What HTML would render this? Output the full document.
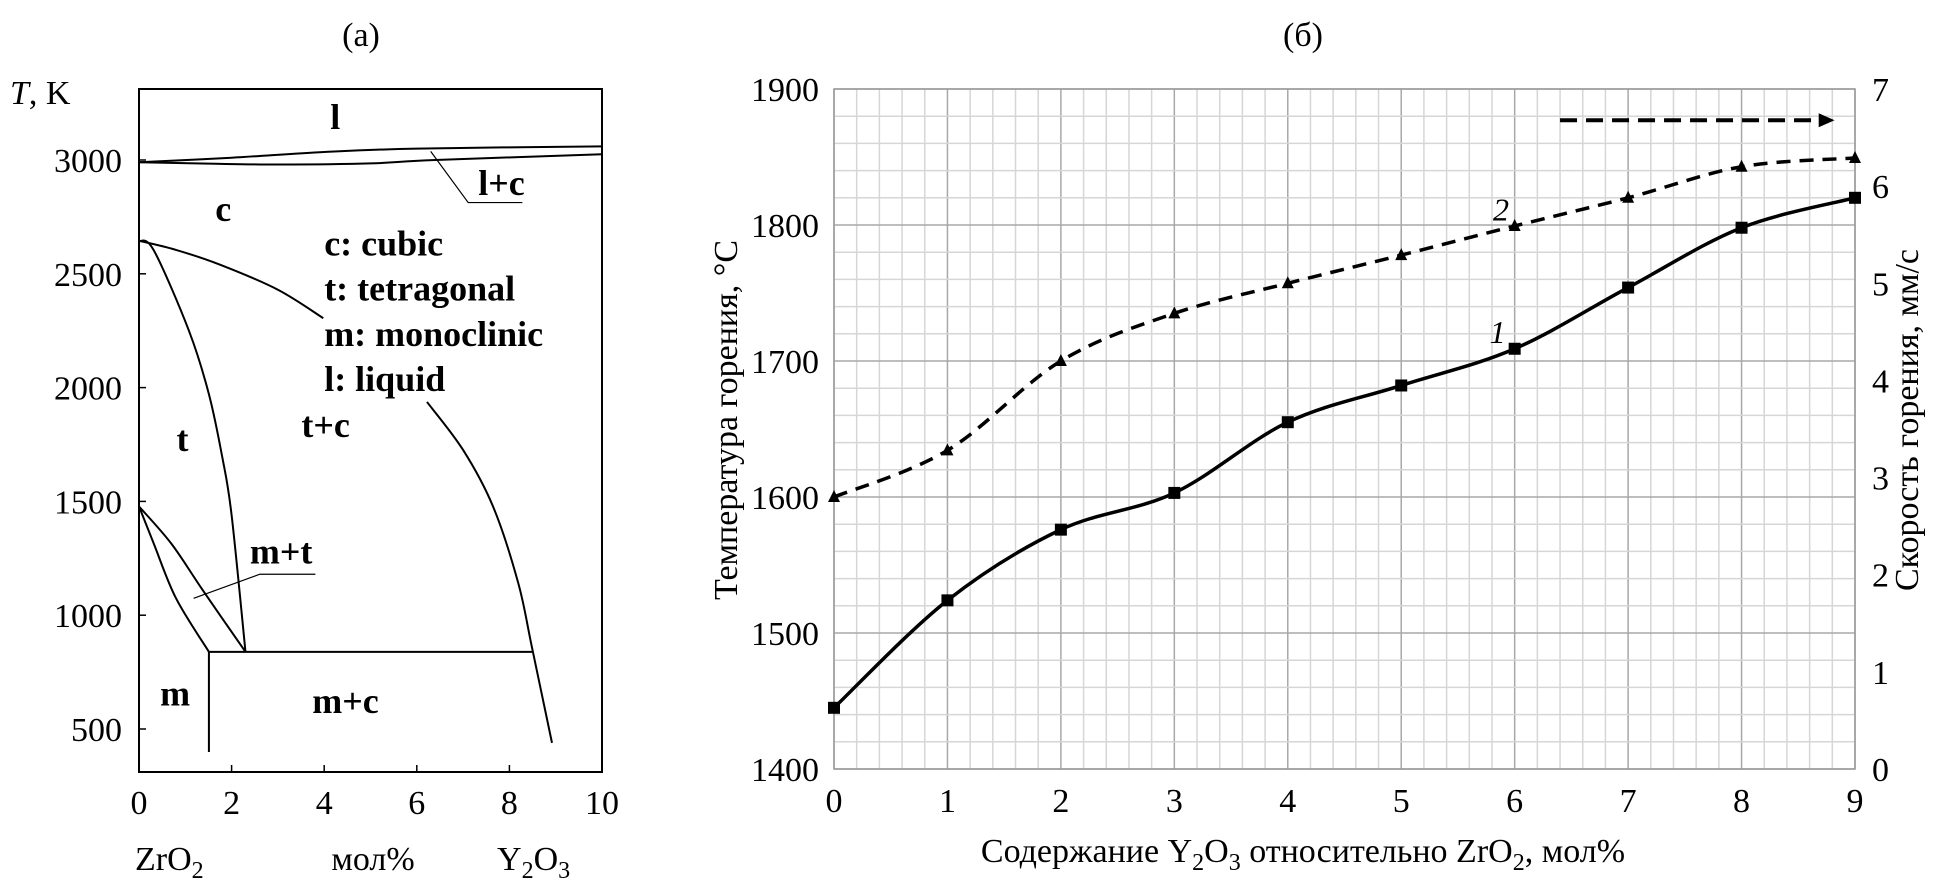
<!DOCTYPE html>
<html><head><meta charset="utf-8">
<style>
html,body{margin:0;padding:0;background:#fff;}
svg{display:block;font-family:"Liberation Serif",serif;}
text,tspan{font-family:"Liberation Serif",serif;fill:#000;}
.b{font-weight:bold;font-size:36px;}
.tk{font-size:34px;}
</style></head>
<body>
<svg id="svg" width="1955" height="891" viewBox="0 0 1955 891" xmlns="http://www.w3.org/2000/svg" font-family="Liberation Serif, serif">
<g id="pa"></g>
<g id="pb"></g>
</svg>
<script>
// ---------- Panel (b) data ----------
const bCategories = [0,1,2,3,4,5,6,7,8,9];
const tempValues = [1445,1524,1576,1603,1655,1682,1709,1754,1798,1820];
const speedValues = [2.8,3.28,4.2,4.69,5.0,5.29,5.59,5.88,6.2,6.29];
const leftTicks = ["1400","1500","1600","1700","1800","1900"];
const rightTicks = ["0","1","2","3","4","5","6","7"];
const xTicksB = ["0","1","2","3","4","5","6","7","8","9"];
// ---------- Panel (a) data ----------
const aYTicks = ["500","1000","1500","2000","2500","3000"];
const aXTicks = ["0","2","4","6","8","10"];
const liquidus = [[0,2990],[2,3010],[4,3035],[6,3050],[10,3060]];
const solidus = [[0,2990],[1.5,2984],[3,2980],[5,2985],[6.4,3000],[10,3025]];
const ctUpper = [[0,2645],[0.8,2605],[1.75,2540],[3,2430],[3.98,2305]];
const ctLower = [[6.22,1937],[7.0,1726],[7.65,1476],[8.19,1142],[8.49,856],[8.92,439]];
const ttcLine = [[0,2645],[0.32,2603],[1.08,2249],[1.51,1971],[1.8,1693],[2.0,1440],[2.3,839]];
const mtUpper = [[0,1478],[0.7,1314],[1.37,1112],[2.3,839]];
const mtLower = [[0,1478],[0.32,1314],[0.8,1074],[1.51,839]];

const NS="http://www.w3.org/2000/svg";
function mk(tag,attrs,parent,txt){const e=document.createElementNS(NS,tag);for(const k in attrs)e.setAttribute(k,attrs[k]);if(tag==='text')e.setAttribute('font-family','Liberation Serif, serif');if(txt!==undefined)e.textContent=txt;parent.appendChild(e);return e;}
function smooth(pts){let d="M"+pts[0][0]+","+pts[0][1];for(let i=0;i<pts.length-1;i++){const p0=pts[i-1]||pts[i],p1=pts[i],p2=pts[i+1],p3=pts[i+2]||p2;const c1=[p1[0]+(p2[0]-p0[0])/6,p1[1]+(p2[1]-p0[1])/6],c2=[p2[0]-(p3[0]-p1[0])/6,p2[1]-(p3[1]-p1[1])/6];d+=" C"+c1+" "+c2+" "+p2;}return d;}

// ---------- Panel (a) ----------
const pa=document.getElementById('pa');
const AX0=139,AX1=602,AY0=89,AY1=772;
const ax=v=>AX0+v*(AX1-AX0)/10;
const ay=T=>160+(3000-T)/500*113.8;
let e;
e=mk('rect',{x:AX0,y:AY0,width:AX1-AX0,height:AY1-AY0,fill:'none',stroke:'#000','stroke-width':2},pa);

aYTicks.forEach(t=>{const y=ay(+t);
 e=mk('line',{x1:AX0,x2:AX0+7,y1:y,y2:y,stroke:'#000','stroke-width':1.5},pa);
 
 e=mk('text',{x:122,y:y+12,'text-anchor':'end',class:'tk'},pa,t);
 });
aXTicks.forEach(t=>{const x=ax(+t);
 e=mk('line',{x1:x,x2:x,y1:AY1,y2:AY1-7,stroke:'#000','stroke-width':1.5},pa);
 
 e=mk('text',{x:x,y:814,'text-anchor':'middle',class:'tk'},pa,t);
 });
[[liquidus,'liquidus-line'],[solidus,'solidus-line'],[ctUpper,'cubic-boundary-upper'],[ctLower,'cubic-boundary-lower'],[ttcLine,'tetragonal-boundary'],[mtUpper,'mt-boundary-upper'],[mtLower,'mt-boundary-lower']].forEach(([pts,n])=>{
 e=mk('path',{d:smooth(pts.map(p=>[ax(p[0]),ay(p[1])])),fill:'none',stroke:'#000','stroke-width':2},pa);
 });
e=mk('line',{x1:ax(1.51),x2:ax(8.49),y1:ay(839),y2:ay(839),stroke:'#000','stroke-width':2},pa);

e=mk('line',{x1:ax(1.51),x2:ax(1.51),y1:ay(839),y2:ay(399),stroke:'#000','stroke-width':2},pa);

e=mk('polyline',{points:[[ax(6.3),ay(3038)],[ax(7.11),ay(2813)],[ax(8.28),ay(2813)]].join(' '),fill:'none',stroke:'#000','stroke-width':1.2},pa);

e=mk('polyline',{points:[[ax(1.18),ay(1074)],[ax(2.61),ay(1180)],[ax(3.81),ay(1180)]].join(' '),fill:'none',stroke:'#000','stroke-width':1.2},pa);

const aLabels=[["l",4.24,3185,'middle'],["l+c",7.83,2894,'middle'],["c",1.82,2780,'middle'],["c: cubic",4.0,2628,'start'],["t: tetragonal",4.0,2431,'start'],["m: monoclinic",4.0,2231,'start'],["l: liquid",4.0,2034,'start'],["t+c",4.03,1832,'middle'],["t",0.94,1769,'middle'],["m+t",3.07,1276,'middle'],["m",0.78,651,'middle'],["m+c",4.46,619,'middle']];
aLabels.forEach(([s,x,T,a])=>{e=mk('text',{x:ax(x),y:ay(T)+11,'text-anchor':a,class:'b'},pa,s);
 });
e=mk('text',{x:361,y:46,'text-anchor':'middle','font-size':34},pa,'(а)');
e=mk('text',{x:10,y:104,'font-size':34},pa,'');
mk('tspan',{'font-style':'italic'},e,'T');mk('tspan',{},e,', K');
e=mk('text',{x:135,y:870,'font-size':34},pa,'');
mk('tspan',{},e,'ZrO');mk('tspan',{'font-size':24,dy:8},e,'2');
e=mk('text',{x:373,y:870,'text-anchor':'middle','font-size':34},pa,'мол%');
e=mk('text',{x:497,y:870,'font-size':34},pa,'');
mk('tspan',{},e,'Y');mk('tspan',{'font-size':24,dy:8},e,'2');mk('tspan',{dy:-8},e,'O');mk('tspan',{'font-size':24,dy:8},e,'3');

// ---------- Panel (b) ----------
const pb=document.getElementById('pb');
const BX0=834,BX1=1855,BY0=89,BY1=769;
const bx=v=>BX0+v*(BX1-BX0)/9;
const by=T=>BY1-(T-1400)/500*(BY1-BY0);
const bys=s=>by(1400+s*500/7);
for(let i=0;i<=45;i++){const x=bx(i/5);e=mk('line',{x1:x,x2:x,y1:BY0,y2:BY1,stroke:i%5?'#d6d6d6':'#a8a8a8','stroke-width':1.5},pb);
 }
for(let i=0;i<=25;i++){const y=by(1400+i*20);e=mk('line',{x1:BX0,x2:BX1,y1:y,y2:y,stroke:i%5?'#d6d6d6':'#a8a8a8','stroke-width':1.5},pb);
 }
e=mk('rect',{x:BX0,y:BY0,width:BX1-BX0,height:BY1-BY0,fill:'none',stroke:'#999','stroke-width':1.5},pb);

leftTicks.forEach(t=>{e=mk('text',{x:819,y:by(+t)+12,'text-anchor':'end',class:'tk'},pb,t);
 });
rightTicks.forEach(t=>{e=mk('text',{x:1872,y:bys(+t)+12,class:'tk'},pb,t);
 });
xTicksB.forEach(t=>{e=mk('text',{x:bx(+t),y:812,'text-anchor':'middle',class:'tk'},pb,t);
 });
const p1=bCategories.map((c,i)=>[bx(c),by(tempValues[i])]);
const p2=bCategories.map((c,i)=>[bx(c),bys(speedValues[i])]);
e=mk('path',{d:smooth(p1),fill:'none',stroke:'#000','stroke-width':3.5},pb);

e=mk('path',{d:smooth(p2),fill:'none',stroke:'#000','stroke-width':3.5,'stroke-dasharray':'14 9'},pb);

p1.forEach(p=>{e=mk('rect',{x:p[0]-6,y:p[1]-6,width:12,height:12,fill:'#000'},pb);
 });
p2.forEach(p=>{e=mk('polygon',{points:[[p[0],p[1]-7],[p[0]-6,p[1]+5],[p[0]+6,p[1]+5]].join(' '),fill:'#000'},pb);
 });
e=mk('text',{x:bx(5.85),y:by(1722)+12,'text-anchor':'middle','font-size':32,'font-style':'italic'},pb,'1');

e=mk('text',{x:bx(5.88),y:by(1812)+12,'text-anchor':'middle','font-size':32,'font-style':'italic'},pb,'2');

e=mk('line',{x1:bx(6.4),x2:bx(8.72),y1:by(1877),y2:by(1877),stroke:'#000','stroke-width':4,'stroke-dasharray':'17 9'},pb);

e=mk('polygon',{points:[[bx(8.82),by(1877)],[bx(8.68),by(1877)-7],[bx(8.68),by(1877)+7]].join(' '),fill:'#000'},pb);

e=mk('text',{x:1303,y:46,'text-anchor':'middle','font-size':34},pb,'(б)');
e=mk('text',{x:0,y:0,'text-anchor':'middle','font-size':34,transform:'translate(737,420) rotate(-90)'},pb,'Температура горения, °С');

e=mk('text',{x:0,y:0,'text-anchor':'middle','font-size':34,transform:'translate(1918,420) rotate(-90)'},pb,'Скорость горения, мм/с');

e=mk('text',{x:1303,y:862,'text-anchor':'middle','font-size':34},pb,'');

mk('tspan',{},e,'Содержание Y');mk('tspan',{'font-size':24,dy:8},e,'2');mk('tspan',{dy:-8},e,'O');mk('tspan',{'font-size':24,dy:8},e,'3');mk('tspan',{dy:-8},e,' относительно ZrO');mk('tspan',{'font-size':24,dy:8},e,'2');mk('tspan',{dy:-8},e,', мол%');
</script>
</body></html>
